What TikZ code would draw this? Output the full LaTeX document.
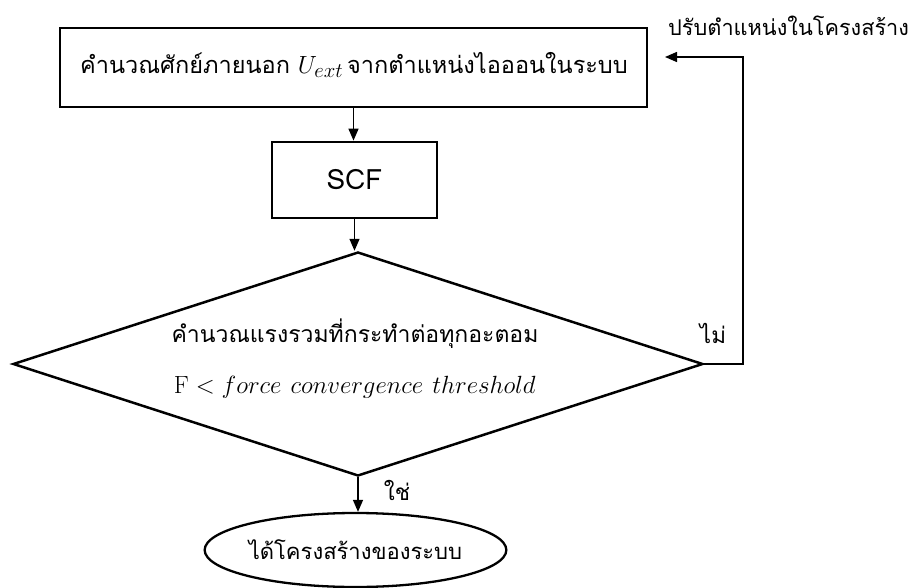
\documentclass[tikz,border=0pt]{standalone}
\usepackage[no-math]{fontspec}
\setmainfont{Loma}[Script=Thai]
\usetikzlibrary{arrows.meta,shapes.geometric}
\newcommand{\thtxt}{\fontsize{22.5}{27}\selectfont}
\newcommand{\thbig}{\fontsize{23.5}{28}\selectfont}
\newcommand{\mtxt}{\fontsize{27.5}{32}\selectfont}
\tikzset{
  boxnode/.style={draw, line width=2.8pt, inner sep=0pt, font=\thtxt},
  arr/.style={line width=1.4pt, -{Triangle[length=12pt,width=10pt]}},
  lbl/.style={inner sep=0pt, font=\thtxt}
}
\begin{document}
\begin{tikzpicture}[x=1pt,y=-1pt]
\useasboundingbox (0,0) rectangle (918,588);
\node[boxnode, minimum width=587pt, minimum height=79pt] (top) at (353.5,67.5) {};
\node[lbl, font=\thbig] (toptext) at (354,65) {คำนวณศักย์ภายนอก {\fontsize{29}{34}\selectfont$U_{ext}$}\,จากตำแหน่งไอออนในระบบ};
\node[boxnode, minimum width=165pt, minimum height=76pt, font=\fontsize{28}{33}\selectfont] (scf) at (354.5,180) {SCF};
\node[draw, shape=diamond, line width=2.5pt, minimum width=690pt, minimum height=224pt, inner sep=0pt] (dia) at (358,364) {};
\node[lbl, font=\fontsize{23}{28}\selectfont] (dl1) at (355,334) {คำนวณแรงรวมที่กระทำต่อทุกอะตอม};
\node[lbl, font=\mtxt] (dl2) at (355,387) {$\mathrm{F} < force\ convergence\ threshold$};
\node[draw, ellipse, line width=2.3pt, minimum width=259pt, minimum height=74pt, inner sep=0pt, font=\fontsize{22}{26}\selectfont] (end) at (355.5,550) {ได้โครงสร้างของระบบ};
\coordinate (turn) at (743,57);
\coordinate (back) at (665,57);
\draw[arr] (top.south) -- (top.south |- scf.north);
\draw[arr] (scf.south) -- (scf.south |- dia.north);
\draw[arr] (dia.south) -- (dia.south |- end.north);
\draw[arr] (dia.east) -| (turn) -- (back);
\node[lbl] (no) at (713,333) {ไม่};
\node[lbl] (yes) at (397,490) {ใช่};
\node[lbl, anchor=west, font=\fontsize{21.7}{26}\selectfont] (adj) at (668,26) {ปรับตำแหน่งในโครงสร้าง};
\end{tikzpicture}
\end{document}
